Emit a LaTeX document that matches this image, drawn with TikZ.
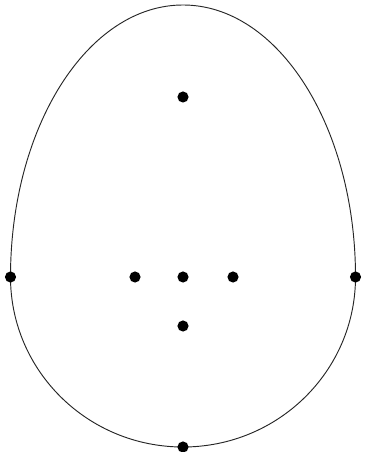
\documentclass[tikz,border=0pt]{standalone}
\usepackage{tikz}
\tikzset{
  dot/.style={circle, fill=black, inner sep=0pt, minimum size=9.5pt},
}
\begin{document}
\begin{tikzpicture}[x=0.03cm, y=0.03cm]
  \useasboundingbox (0,0) rectangle (367,452);
  % egg outline
  \draw[line width=0.8pt, black!85]
    (10.5,175) arc[start angle=180, end angle=0, x radius=172.5, y radius=272]
    arc[start angle=0, end angle=-180, x radius=172.5, y radius=170];
  % points
  \node[dot] (top)    at (183,355)   {};
  \node[dot] (left)   at (10.5,175)  {};
  \node[dot] (right)  at (355.5,175) {};
  \node[dot] (midl)   at (135,175)   {};
  \node[dot] (mid)    at (183,175)   {};
  \node[dot] (midr)   at (233,175)   {};
  \node[dot] (low)    at (183,126)   {};
  \node[dot] (bottom) at (183,5)     {};
\end{tikzpicture}
\end{document}
